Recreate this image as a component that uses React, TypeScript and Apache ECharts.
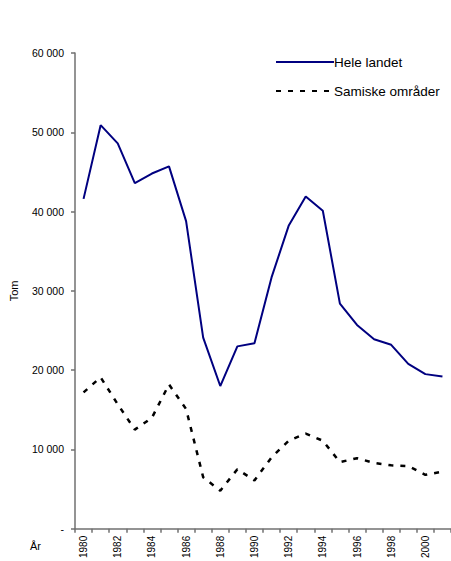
import React, { useEffect, useRef } from "react";
import * as echarts from "echarts";

const years = [
  "1980", "1981", "1982", "1983", "1984", "1985", "1986", "1987", "1988", "1989", "1990",
  "1991", "1992", "1993", "1994", "1995", "1996", "1997", "1998", "1999", "2000", "2001",
];
const heleLandet = [
  41600, 50900, 48600, 43600, 44800, 45700, 38800, 24100, 18000, 23000, 23400,
  31700, 38200, 41900, 40100, 28400, 25700, 23900, 23200, 20800, 19500, 19200,
];
const samiske = [
  17200, 19100, 15700, 12500, 14000, 18200, 15100, 6500, 4800, 7500, 6100,
  9000, 11100, 12000, 11100, 8400, 8900, 8300, 8000, 7900, 6800, 7200,
];
const yTicks = { min: 0, max: 60000, interval: 10000 };

function fmt(v: number): string {
  if (v === 0) return "-";
  const s = String(Math.round(v));
  return s.replace(/\B(?=(\d{3})+(?!\d))/g, " ");
}

export default function App() {
  const ref = useRef<HTMLDivElement>(null);
  useEffect(() => {
    if (!ref.current) return;
    const chart = echarts.init(ref.current, null, { renderer: "svg" });
    const font = "Liberation Sans, Arial, sans-serif";
    chart.setOption({
      animation: false,
      backgroundColor: "#ffffff",
      textStyle: { fontFamily: font },
      grid: { left: 74, right: -1, top: 53, bottom: 31, containLabel: false },
      legend: {
        orient: "vertical",
        left: 270,
        top: 50,
        itemWidth: 58,
        itemHeight: 14,
        itemGap: 15,
        itemStyle: { opacity: 0 },
        textStyle: { fontSize: 13.5, color: "#000", fontFamily: font, padding: [0, 0, 0, -5] },
        data: ["Hele landet", "Samiske områder"],
      },
      xAxis: {
        type: "category",
        data: years,
        boundaryGap: true,
        axisLine: { lineStyle: { color: "#707070", width: 1.5 } },
        axisTick: { show: true, length: 4, interval: 0, lineStyle: { color: "#707070", width: 1.5 } },
        axisLabel: {
          interval: 1,
          rotate: 90,
          fontSize: 10,
          color: "#000",
          margin: 7,
          fontFamily: font,
        },
      },
      yAxis: {
        type: "value",
        min: yTicks.min,
        max: yTicks.max,
        interval: yTicks.interval,
        name: "Tom",
        nameLocation: "middle",
        nameRotate: 90,
        nameGap: 56,
        nameTextStyle: { fontSize: 11, color: "#000", fontFamily: font },
        splitLine: { show: false },
        axisLine: { show: true, lineStyle: { color: "#707070", width: 1.5 } },
        axisTick: { show: true, length: 4, lineStyle: { color: "#707070", width: 1.5 } },
        axisLabel: {
          fontSize: 10.5,
          color: "#000",
          margin: 11,
          fontFamily: font,
          formatter: (v: number) => fmt(v),
        },
      },
      graphic: [
        {
          type: "text",
          left: 30,
          top: 540,
          style: { text: "År", fontSize: 11, fill: "#000", fontFamily: font },
        },
      ],
      series: [
        {
          name: "Hele landet",
          type: "line",
          data: heleLandet,
          symbol: "none",
          lineStyle: { color: "#000080", width: 2 },
          itemStyle: { color: "#000080" },
        },
        {
          name: "Samiske områder",
          type: "line",
          data: samiske,
          symbol: "none",
          lineStyle: { color: "#000000", width: 2.5, type: [5, 7] },
          itemStyle: { color: "#000000" },
        },
      ],
    });
    return () => chart.dispose();
  }, []);
  return <div ref={ref} style={{ width: 451, height: 561, position: "absolute", left: 0, top: 0 }} />;
}
